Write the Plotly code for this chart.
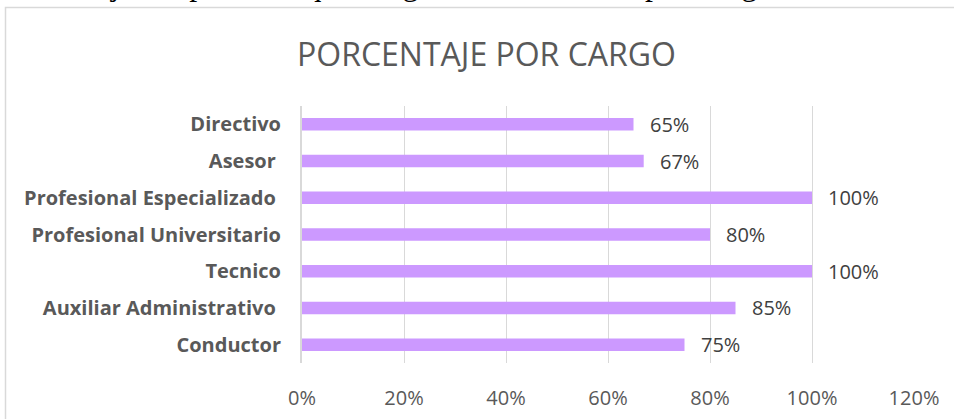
import plotly.graph_objects as go

cargos = ["Directivo", "Asesor ", "Profesional Especializado ", "Profesional Universitario",
          "Tecnico", "Auxiliar Administrativo ", "Conductor"]
porcentajes = [0.65, 0.67, 1.00, 0.80, 1.00, 0.85, 0.75]
etiquetas = ["65%", "67%", "100%", "80%", "100%", "85%", "75%"]
x_ticks = [0, 0.2, 0.4, 0.6, 0.8, 1.0, 1.2]
x_ticklabels = ["0%", "20%", "40%", "60%", "80%", "100%", "120%"]

W, H = 954, 419
ml, mr, mt, mb = 302, 40, 106, 56
pw = W - ml - mr
ph = H - mt - mb

# trailing spaces in the labels would be collapsed, keep them visible
cat_txt = [c.replace(" ", "\u00a0") if c.endswith(" ") else c for c in cargos]

fig = go.Figure()
fig.add_trace(go.Bar(
    x=porcentajes, y=cargos, orientation="h",
    marker=dict(color="#CC99FF", line=dict(width=0)),
    width=0.34, hoverinfo="skip"))

# value labels right of the bars
for v, c, t in zip(porcentajes, cargos, etiquetas):
    fig.add_annotation(x=v, y=c, text=t, showarrow=False, xanchor="left",
                       xshift=14, font=dict(family="Open Sans", size=20, color="#404040"))

# chart title
fig.add_annotation(xref="paper", yref="paper", x=(486 - ml) / pw, xanchor="center",
                   y=1, yanchor="middle", yshift=mt - 53,
                   text="PORCENTAJE POR CARGO", showarrow=False,
                   font=dict(family="Open Sans", size=32, color="#595959"))

# document caption cut off by the top edge
fig.add_annotation(xref="paper", yref="paper", x=(-3 - ml) / pw, xanchor="left", y=1,
                   yanchor="bottom", yshift=mt - 4.5,
                   text="Porcentaje del personal que diligenció la encuesta por Cargo",
                   showarrow=False, font=dict(family="Liberation Serif", size=32, color="#000000"))

# chart frame
fig.add_shape(type="rect", xref="paper", yref="paper",
              x0=(5.5 - ml) / pw, x1=(W + 20 - ml) / pw,
              y0=-(mb + 20) / ph, y1=1 + (mt - 7.5) / ph,
              line=dict(color="#D9D9D9", width=1.5), fillcolor="rgba(0,0,0,0)")

fig.update_layout(
    width=W, height=H,
    margin=dict(l=ml, r=mr, t=mt, b=mb),
    paper_bgcolor="white", plot_bgcolor="white",
    showlegend=False, bargap=0.66,
    xaxis=dict(range=[0, 1.2], tickvals=x_ticks, ticktext=x_ticklabels,
               showgrid=True, gridcolor="#D9D9D9", gridwidth=1, zeroline=False,
               ticklabelstandoff=21, fixedrange=True, automargin=False,
               tickfont=dict(family="Open Sans", size=20, color="#595959")),
    yaxis=dict(autorange="reversed", tickvals=cargos, ticktext=cat_txt,
               showline=True, linecolor="#D9D9D9", linewidth=2, automargin=False,
               ticklabelstandoff=15, showgrid=False, fixedrange=True,
               tickfont=dict(family="Open Sans", size=20, color="#595959", weight="bold")),
)

fig.write_html("out.html", config={"displayModeBar": False},
               post_script="document.body.style.margin='0px';")
